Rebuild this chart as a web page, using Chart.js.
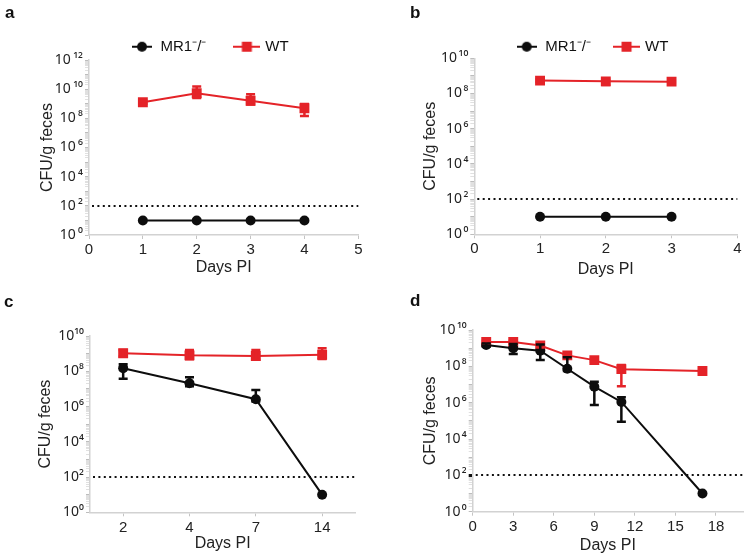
<!DOCTYPE html>
<html><head><meta charset="utf-8">
<script src="https://cdn.jsdelivr.net/npm/chart.js@4/dist/chart.umd.min.js"></script>
<style>
html,body{margin:0;padding:0;background:#fff;}
#wrap{position:relative;width:750px;height:558px;overflow:hidden;background:#fff;}
.panel{position:absolute;width:375px;height:279px;}
.panel canvas{display:block;}
.lbl{position:absolute;font:bold 17px "Liberation Sans",Arial,sans-serif;line-height:1;color:#111;}
</style></head><body>
<div id="wrap">
<div class="panel" style="left:0;top:0"><canvas id="ca" width="375" height="279"></canvas></div>
<div class="panel" style="left:375px;top:0"><canvas id="cb" width="375" height="279"></canvas></div>
<div class="panel" style="left:0;top:279px"><canvas id="cc" width="375" height="279"></canvas></div>
<div class="panel" style="left:375px;top:279px"><canvas id="cd" width="375" height="279"></canvas></div>
<div class="lbl" style="left:5px;top:4px">a</div>
<div class="lbl" style="left:410px;top:4px">b</div>
<div class="lbl" style="left:4px;top:293px">c</div>
<div class="lbl" style="left:410px;top:292px">d</div>
</div>
<script>
// ---------- data ----------
const seriesNames = ['MR1⁻/⁻', 'WT'];

// panel a
const aDays = [1, 2, 3, 4];
const aMR1 = [10, 10, 10, 10];
const aWT = [1.26e9, 5.2e9, 1.6e9, 4.9e8];
const aWTLo = [1.0e9, 2.5e9, 9.0e8, 1.45e8];
const aWTHi = [1.6e9, 1.5e10, 4.5e9, 9.5e8];
const aXTicks = [0, 1, 2, 3, 4, 5];
const aYExp = [0, 2, 4, 6, 8, 10, 12];

// panel b
const bDays = [1, 2, 3];
const bMR1 = [10, 10, 10];
const bWT = [5.4e8, 4.9e8, 4.7e8];
const bWTLo = [4.5e8, 3.0e8, 4.2e8];
const bWTHi = [6.5e8, 6.0e8, 5.3e8];
const bXTicks = [0, 1, 2, 3, 4];
const bYExp = [0, 2, 4, 6, 8, 10];

// panel c (categorical days)
const cDays = ['2', '4', '7', '14'];
const cMR1 = [1.5e8, 2.1e7, 2.6e6, 10];
const cMR1Lo = [3.8e7, 1.4e7, 1.9e6, null];
const cMR1Hi = [2.5e8, 4.6e7, 8.7e6, null];
const cWT = [1.05e9, 8.0e8, 7.4e8, 8.7e8];
const cWTLo = [6.8e8, 4.8e8, 4.5e8, 5.0e8];
const cWTHi = [1.6e9, 1.6e9, 1.6e9, 2.0e9];
const cYExp = [0, 2, 4, 6, 8, 10];

// panel d
const dDays = [1, 3, 5, 7, 9, 11, 17];
const dMR1 = [1.5e9, 9.8e8, 7.2e8, 7.4e7, 7.6e6, 1.1e6, 10];
const dMR1Lo = [1.2e9, 4.8e8, 2.2e8, 5.5e7, 7.4e5, 9.0e4, null];
const dMR1Hi = [1.8e9, 1.7e9, 1.6e9, 3.2e8, 1.4e7, 2.0e6, null];
const dWT = [2.2e9, 2.2e9, 1.4e9, 4.0e8, 2.2e8, 7.0e7, 5.5e7];
const dWTLo = [1.8e9, 1.8e9, 1.1e9, 3.2e8, 1.8e8, 8.0e6, 4.5e7];
const dWTHi = [2.6e9, 2.6e9, 1.7e9, 5.0e8, 2.6e8, 1.2e8, 6.5e7];
const dXTicks = [0, 3, 6, 9, 12, 15, 18];
const dYExp = [0, 2, 4, 6, 8, 10];

const detectionLimit = 100;

// ---------- styling ----------
const FONT = '"Liberation Sans", Arial, Helvetica, sans-serif';
const TICKFONT = '"Noto Sans", "DejaVu Sans", sans-serif';
Chart.defaults.font.family = FONT;
Chart.defaults.color = '#222';
const RED = '#e42328';
const BLACK = '#0d0d0d';
const AXIS = '#d2d2d2';

const SUP = {'0':'⁰','1':'¹','2':'²','3':'³','4':'⁴','5':'⁵','6':'⁶','7':'⁷','8':'⁸','9':'⁹','-':'⁻'};
const sup = s => String(s).split('').map(c => SUP[c] || c).join('');

function icon(kind) {
  const c = document.createElement('canvas');
  const w = kind === 'circle' ? 20 : 27;
  c.width = w; c.height = 12;
  const g = c.getContext('2d');
  g.strokeStyle = kind === 'circle' ? BLACK : RED;
  g.fillStyle = g.strokeStyle;
  g.lineWidth = 2;
  g.beginPath(); g.moveTo(0, 6); g.lineTo(w, 6); g.stroke();
  if (kind === 'circle') { g.beginPath(); g.arc(w/2, 6, 5, 0, Math.PI*2); g.fill(); }
  else { g.fillRect(w/2 - 5, 1, 10, 10); }
  return c;
}
const icons = [icon('circle'), icon('rect')];

// error bars + detection limit drawn through the chart's own scales
const errorBars = {
  id: 'errorBars',
  afterDatasetsDraw(chart) {
    const ctx = chart.ctx, ys = chart.scales.y;
    for (let di = chart.data.datasets.length - 1; di >= 0; di--) {
      const ds = chart.data.datasets[di];
      if (!ds.errLo) continue;
      const meta = chart.getDatasetMeta(di);
      ctx.save();
      ctx.strokeStyle = ds.borderColor; ctx.lineWidth = 2.5; ctx.lineCap = 'butt';
      meta.data.forEach((pt, i) => {
        const lo = ds.errLo[i], hi = ds.errHi[i];
        if (lo == null || hi == null) return;
        const x = pt.x, y1 = ys.getPixelForValue(lo), y2 = ys.getPixelForValue(hi);
        ctx.beginPath();
        ctx.moveTo(x, y1); ctx.lineTo(x, y2);
        ctx.moveTo(x - 4.5, y1); ctx.lineTo(x + 4.5, y1);
        ctx.moveTo(x - 4.5, y2); ctx.lineTo(x + 4.5, y2);
        ctx.stroke();
      });
      ctx.restore();
    }
  }
};
const limitLine = {
  id: 'limitLine',
  beforeDatasetsDraw(chart) {
    const ctx = chart.ctx, ys = chart.scales.y, a = chart.chartArea;
    const y = Math.round(ys.getPixelForValue(detectionLimit));
    ctx.save();
    ctx.strokeStyle = '#111'; ctx.lineWidth = 2; ctx.setLineDash([2, 3.4]);
    ctx.beginPath(); ctx.moveTo(a.left + 3, y); ctx.lineTo(a.right, y); ctx.stroke();
    ctx.restore();
  }
};
const legendFix = {
  id: 'legendFix',
  beforeLayout(chart, args, opts) {
    const lg = chart.legend;
    if (lg && !lg._fixed && opts.height) {
      const fit = lg.fit;
      lg.fit = function () { fit.call(this); this.height = opts.height; };
      lg._fixed = true;
    }
  },
  afterLayout(chart, args, opts) {
    const lg = chart.legend;
    if (lg && opts.x != null) {
      lg.left = opts.x - lg.options.labels.padding;
      lg.right = lg.left + 360;
    }
  }
};

function ptsOf(xs, ys) { return xs.map((x, i) => ({x, y: ys[i]})); }

function makeChart(id, p) {
  const minors = [];
  const maxE = p.yExp[p.yExp.length - 1];
  for (let e = 0; e < maxE; e++) for (let m = 1; m < 10; m++) minors.push(m * Math.pow(10, e));
  minors.push(Math.pow(10, maxE));

  const datasets = [
    { label: seriesNames[0], data: p.mr1, errLo: p.mr1Lo, errHi: p.mr1Hi,
      borderColor: BLACK, backgroundColor: BLACK, borderWidth: 2,
      pointStyle: 'circle', pointRadius: 5, pointBorderWidth: 0, tension: 0 },
    { label: seriesNames[1], data: p.wt, errLo: p.wtLo, errHi: p.wtHi,
      borderColor: RED, backgroundColor: RED, borderWidth: 2,
      pointStyle: 'rect', pointRadius: 7, pointBorderWidth: 0, tension: 0 }
  ];

  const xScale = p.category ? {
      type: 'category', offset: true,
      grid: { drawOnChartArea: false, offset: false, tickLength: 4, color: '#c4c4c4' },
      border: { color: AXIS, width: 1.5 },
      ticks: { font: { size: 15 }, color: '#222', padding: p.xPad }
    } : {
      type: 'linear', min: p.xMin, max: p.xMax,
      afterBuildTicks: s => { s.ticks = p.xTicks.map(v => ({value: v})); },
      grid: { drawOnChartArea: false, tickLength: 4, color: '#c4c4c4' },
      border: { color: AXIS, width: 1.5 },
      ticks: { font: { size: 15 }, color: '#222', padding: p.xPad, autoSkip: false }
    };
  xScale.title = { display: true, text: 'Days PI', font: { size: 16 }, color: '#222', padding: { top: 0, bottom: p.xTitlePad } };
  xScale.afterFit = s => { s.height = p.xH; };

  return new Chart(document.getElementById(id), {
    type: 'line',
    data: { labels: p.labels, datasets },
    options: {
      responsive: false, animation: false,
      layout: { padding: { left: 0, right: p.padR, top: p.padT, bottom: 0 } },
      scales: {
        x: xScale,
        y: {
          type: 'logarithmic', min: 1, max: Math.pow(10, maxE),
          afterBuildTicks: s => { s.ticks = minors.map(v => ({value: v})); },
          afterFit: s => { s.width = p.yW; },
          grid: {
            drawOnChartArea: false, tickLength: 4,
            color: c => {
              const v = c.tick ? c.tick.value : 0;
              if (p.markLimit && v === detectionLimit) return '#111';
              return Number.isInteger(Math.log10(v)) ? '#bdbdbd' : '#e0e0e0';
            },
            tickWidth: c => (p.markLimit && c.tick && c.tick.value === detectionLimit) ? 3 : 1
          },
          border: { color: AXIS, width: 1.5 },
          ticks: {
            autoSkip: false, padding: 2, font: { size: 14, family: TICKFONT }, color: '#222',
            callback: v => {
              const e = Math.round(Math.log10(v));
              return (Math.pow(10, e) === v && p.yExp.includes(e)) ? '10' + p.gap + sup(e) : '';
            }
          },
          title: { display: true, text: 'CFU/g feces', font: { size: 16 }, color: '#222', padding: { top: p.yTitlePad, bottom: 0 } }
        }
      },
      plugins: {
        legend: {
          display: !!p.legend, position: 'top', align: 'start',
          labels: {
            usePointStyle: true, pointStyleWidth: 22, padding: p.legend ? p.legend.pad : 10,
            font: { size: 15 }, color: '#111',
            generateLabels: chart => chart.data.datasets.map((ds, i) => ({
              text: ds.label, pointStyle: icons[i], fillStyle: ds.backgroundColor,
              strokeStyle: ds.borderColor, lineWidth: 0, hidden: false, datasetIndex: i, fontColor: '#111'
            }))
          }
        },
        legendFix: p.legend ? { height: p.legend.h, x: p.legend.x } : {},
        tooltip: { enabled: false }
      }
    },
    plugins: [limitLine, errorBars, legendFix]
  });
}

makeChart('ca', {
  mr1: ptsOf(aDays, aMR1), wt: ptsOf(aDays, aWT), wtLo: aWTLo, wtHi: aWTHi,
  xMin: 0, xMax: 5, xTicks: aXTicks, yExp: aYExp, gap: '\u2009',
  yW: 89, padR: 16.7, padT: 9.7, xH: 44, xPad: 2, xTitlePad: 2.2, yTitlePad: 38.4,
  legend: { pad: 29.5, h: 50.3, x: 131 }
});
makeChart('cb', {
  mr1: ptsOf(bDays, bMR1), wt: ptsOf(bDays, bWT), wtLo: bWTLo, wtHi: bWTHi,
  xMin: 0, xMax: 4, xTicks: bXTicks, yExp: bYExp, gap: '\u200a',
  yW: 99.3, padR: 12.7, padT: 14.7, xH: 44.7, xPad: 2, xTitlePad: 0, yTitlePad: 46.2,
  legend: { pad: 24.5, h: 43.6, x: 140.7 }
});
makeChart('cc', {
  category: true, labels: cDays,
  mr1: cMR1, mr1Lo: cMR1Lo, mr1Hi: cMR1Hi, wt: cWT, wtLo: cWTLo, wtHi: cWTHi,
  yExp: cYExp, gap: '',
  yW: 90, padR: 19.7, padT: 57, xH: 45.7, xPad: 3, xTitlePad: 5.1, yTitlePad: 36.2
});
makeChart('cd', {
  mr1: ptsOf(dDays, dMR1), mr1Lo: dMR1Lo, mr1Hi: dMR1Hi, wt: ptsOf(dDays, dWT), wtLo: dWTLo, wtHi: dWTHi,
  xMin: 0, xMax: 20, xTicks: dXTicks, yExp: dYExp, gap: '\u200a', markLimit: true,
  yW: 97.7, padR: 4, padT: 51, xH: 46.3, xPad: 2.6, xTitlePad: 2.7, yTitlePad: 46.2
});
</script>
</body></html>
